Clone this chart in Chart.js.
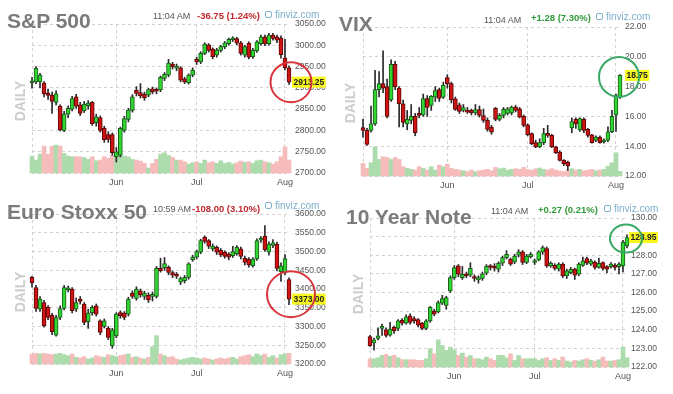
<!DOCTYPE html>
<html>
<head>
<meta charset="utf-8">
<script src="https://cdn.jsdelivr.net/npm/chart.js@4.4.1/dist/chart.umd.min.js"></script>
<style>
body{margin:0;background:#fff;width:673px;height:394px;overflow:hidden;position:relative;font-family:"Liberation Sans",Arial,sans-serif}
.panel{position:absolute;width:337px;height:197px}
.panel canvas{position:absolute;left:0;top:0}
.title{position:absolute;font-weight:bold;font-size:21px;line-height:21px;color:#7b7b7b;white-space:nowrap}
.time{position:absolute;font-size:9px;line-height:10px;color:#555;white-space:nowrap}
.chg{position:absolute;font-size:9.5px;line-height:10px;font-weight:bold;white-space:nowrap}
.dn{color:#c0282d}.up{color:#2f9a3a}
.fv{position:absolute;font-size:10px;line-height:10px;color:#7fb0cc;white-space:nowrap}
.fv i{display:inline-block;width:5px;height:5px;border:1px solid #7fb0cc;border-radius:2px;margin-right:3px;vertical-align:0px}
.daily{position:absolute;width:50px;height:16px;line-height:16px;text-align:center;font-size:14px;font-weight:bold;color:#cdcdcd;transform:rotate(-90deg)}
</style>
</head>
<body>

<div class="panel" style="left:0;top:0">
  <canvas id="spx" width="336" height="197"></canvas>
  <div class="title" style="left:7px;top:10px">S&amp;P 500</div>
  <div class="time" style="left:153px;top:11px">11:04 AM</div>
  <div class="chg dn" style="left:197px;top:11px">-36.75 (1.24%)</div>
  <div class="fv" style="left:265px;top:10px"><i></i>finviz.com</div>
  <div class="daily" style="left:-5px;top:93px">DAILY</div>
</div>

<div class="panel" style="left:336px;top:0">
  <canvas id="vix" width="337" height="197"></canvas>
  <div class="title" style="left:3px;top:13px">VIX</div>
  <div class="time" style="left:148px;top:15px">11:04 AM</div>
  <div class="chg up" style="left:195px;top:13px">+1.28 (7.30%)</div>
  <div class="fv" style="left:260px;top:12px"><i></i>finviz.com</div>
  <div class="daily" style="left:-11px;top:95px">DAILY</div>
</div>

<div class="panel" style="left:0;top:197px">
  <canvas id="sx5e" width="336" height="197"></canvas>
  <div class="title" style="left:7px;top:4px">Euro Stoxx 50</div>
  <div class="time" style="left:153px;top:7px">10:59 AM</div>
  <div class="chg dn" style="left:192px;top:7px">-108.00 (3.10%)</div>
  <div class="fv" style="left:265px;top:4px"><i></i>finviz.com</div>
  <div class="daily" style="left:-5px;top:87px">DAILY</div>
</div>

<div class="panel" style="left:336px;top:197px">
  <canvas id="tny" width="337" height="197"></canvas>
  <div class="title" style="left:10px;top:9px">10 Year Note</div>
  <div class="time" style="left:155px;top:9px">11:04 AM</div>
  <div class="chg up" style="left:202px;top:8px">+0.27 (0.21%)</div>
  <div class="fv" style="left:268px;top:7px"><i></i>finviz.com</div>
  <div class="daily" style="left:-3px;top:89px">DAILY</div>
</div>

<script>
// trading days shown on every panel
const dates = [
    'May 2', 'May 3', 'May 6', 'May 7', 'May 8', 'May 9', 'May 10', 'May 13', 'May 14', 'May 15',
    'May 16', 'May 17', 'May 20', 'May 21', 'May 22', 'May 23', 'May 24', 'May 28', 'May 29', 'May 30',
    'May 31', 'Jun 3', 'Jun 4', 'Jun 5', 'Jun 6', 'Jun 7', 'Jun 10', 'Jun 11', 'Jun 12', 'Jun 13',
    'Jun 14', 'Jun 17', 'Jun 18', 'Jun 19', 'Jun 20', 'Jun 21', 'Jun 24', 'Jun 25', 'Jun 26', 'Jun 27',
    'Jun 28', 'Jul 1', 'Jul 2', 'Jul 3', 'Jul 5', 'Jul 8', 'Jul 9', 'Jul 10', 'Jul 11', 'Jul 12',
    'Jul 15', 'Jul 16', 'Jul 17', 'Jul 18', 'Jul 19', 'Jul 22', 'Jul 23', 'Jul 24', 'Jul 25', 'Jul 26',
    'Jul 29', 'Jul 30', 'Jul 31', 'Aug 1', 'Aug 2'
];

// S&P 500
const spxOpen = [2912, 2914, 2914, 2911, 2887, 2883, 2866, 2857, 2800, 2838, 2850, 2879, 2860, 2846, 2858, 2866, 2818, 2830, 2805, 2790,
    2790, 2738, 2742, 2800, 2826, 2847, 2894, 2889, 2885, 2883, 2898, 2896, 2895, 2922, 2930, 2956, 2946, 2947, 2921, 2912,
    2930, 2967, 2961, 2981, 3001, 2991, 2977, 2988, 2996, 3004, 3013, 3016, 3006, 2977, 3005, 2973, 2987, 3004, 3020, 3004,
    3024, 3020, 3017, 2970, 2947];
const spxHigh = [2925, 2950, 2934, 2915, 2897, 2890, 2893, 2860, 2845, 2858, 2880, 2885, 2866, 2868, 2870, 2868, 2838, 2834, 2810, 2797,
    2794, 2760, 2808, 2833, 2852, 2884, 2903, 2910, 2890, 2899, 2902, 2900, 2928, 2936, 2967, 2960, 2956, 2950, 2925, 2933,
    2947, 2972, 2985, 3006, 3004, 2994, 2993, 3000, 3009, 3017, 3020, 3019, 3009, 3000, 3008, 2993, 3011, 3024, 3024, 3028,
    3028, 3024, 3022, 3014, 2952];
const spxLow = [2899, 2910, 2900, 2879, 2873, 2840, 2860, 2799, 2797, 2830, 2846, 2852, 2835, 2842, 2850, 2812, 2810, 2796, 2772, 2772,
    2742, 2726, 2738, 2796, 2820, 2843, 2881, 2876, 2871, 2879, 2886, 2886, 2891, 2917, 2926, 2944, 2940, 2914, 2910, 2909,
    2926, 2955, 2957, 2978, 2984, 2968, 2972, 2984, 2992, 3000, 3009, 3001, 2977, 2972, 2968, 2969, 2983, 3000, 2999, 3000,
    3012, 3006, 2970, 2942, 2908];
const spxClose = [2915, 2946, 2930, 2886, 2882, 2868, 2886, 2801, 2839, 2852, 2875, 2857, 2840, 2862, 2864, 2815, 2832, 2800, 2778, 2779,
    2748, 2750, 2805, 2828, 2848, 2879, 2887, 2881, 2877, 2896, 2891, 2892, 2925, 2932, 2958, 2950, 2951, 2918, 2914, 2930,
    2942, 2961, 2981, 3003, 2988, 2973, 2989, 2997, 3006, 3014, 3016, 3005, 2981, 2997, 2972, 2989, 3008, 3020, 3003, 3024,
    3016, 3012, 2978, 2947, 2913.25];
const spxVol = [51, 39, 57, 81, 57, 81, 84, 81, 59, 51, 49, 49, 49, 47, 41, 49, 37, 39, 49, 44,
    54, 49, 54, 51, 49, 41, 39, 36, 29, 15, 29, 41, 57, 61, 53, 47, 39, 39, 34, 27,
    31, 34, 29, 39, 31, 34, 29, 37, 29, 32, 27, 31, 36, 32, 34, 29, 37, 39, 34, 31,
    27, 34, 49, 79, 39];

// VIX
const vixOpen = [15.25, 15.06, 15.06, 15.5, 17.8, 18.2, 18.0, 17.1, 19.5, 17.9, 16.85, 15.5, 15.73, 16.0, 16.2, 16.1, 17.2, 16.73, 17.29, 17.8,
    17.29, 18.6, 18.2, 17.18, 16.78, 16.4, 16.4, 16.4, 16.24, 16.46, 16.06, 15.73, 15.28, 16.55, 15.8, 16.07, 16.2, 16.24, 16.62, 16.5,
    16.0, 15.44, 14.84, 14.24, 13.95, 14.24, 14.84, 14.73, 13.95, 13.6, 13.05, 12.94, 15.22, 15.8, 15.1, 15.8, 15.13, 14.77, 14.39, 14.61,
    14.28, 14.41, 14.97, 16.1, 17.3];
const vixHigh = [15.8, 15.2, 16.7, 19.1, 19.0, 20.4, 18.5, 19.8, 19.7, 18.0, 17.1, 16.4, 16.8, 16.2, 16.6, 17.5, 17.4, 17.4, 18.0, 17.9,
    18.3, 18.8, 18.3, 17.3, 16.9, 16.8, 16.6, 16.5, 16.8, 16.7, 16.5, 15.9, 15.4, 16.6, 16.2, 16.6, 16.6, 16.7, 16.75, 16.6,
    16.1, 15.5, 14.9, 14.4, 14.5, 15.2, 15.4, 14.8, 14.0, 13.7, 13.1, 13.0, 15.9, 15.9, 15.9, 15.9, 15.2, 14.8, 14.7, 14.7,
    14.5, 15.3, 16.4, 17.5, 18.8];
const vixLow = [14.6, 14.05, 14.95, 15.4, 17.3, 17.6, 15.9, 17.0, 17.8, 15.3, 15.3, 15.1, 15.5, 14.7, 15.9, 16.0, 16.0, 16.4, 17.0, 17.0,
    17.2, 17.9, 16.9, 16.4, 16.2, 16.3, 16.2, 16.1, 16.1, 15.95, 15.6, 15.0, 14.8, 15.7, 15.7, 15.9, 16.1, 16.1, 16.3, 15.9,
    15.3, 14.7, 14.1, 13.9, 13.9, 14.1, 14.6, 13.9, 13.5, 13.0, 12.7, 12.38, 14.9, 15.2, 15.0, 14.9, 14.6, 14.2, 14.3, 14.2,
    14.2, 14.3, 14.9, 15.0, 17.2];
const vixClose = [15.06, 14.12, 15.5, 17.8, 18.2, 17.9, 16.0, 19.5, 18.0, 16.85, 15.6, 15.8, 16.0, 14.9, 16.07, 17.2, 16.6, 17.36, 17.74, 17.2,
    18.1, 18.2, 17.1, 16.47, 16.33, 16.6, 16.29, 16.24, 16.46, 16.06, 15.73, 15.13, 14.95, 15.8, 16.07, 16.47, 16.5, 16.62, 16.4, 15.95,
    15.4, 14.77, 14.17, 13.95, 14.24, 14.84, 14.73, 13.95, 13.57, 13.05, 12.83, 12.67, 15.66, 15.5, 15.85, 15.06, 14.73, 14.23, 14.61, 14.23,
    14.4, 14.97, 16.0, 17.4, 18.75];
const vixVol = [38, 23, 40, 88, 50, 58, 56, 50, 56, 50, 28, 23, 20, 18, 28, 23, 18, 28, 18, 33,
    28, 36, 23, 20, 18, 16, 13, 18, 13, 16, 18, 20, 16, 26, 22, 24, 18, 20, 22, 20,
    26, 20, 18, 22, 24, 20, 18, 22, 18, 15, 13, 18, 22, 18, 20, 16, 18, 20, 16, 18,
    20, 30, 40, 70, 14];

// Euro Stoxx 50
const sx5eOpen = [3431, 3404, 3346, 3364, 3351, 3330, 3277, 3324, 3348, 3398, 3400, 3346, 3371, 3360, 3313, 3337, 3355, 3315, 3300, 3295,
    3249, 3275, 3337, 3336, 3333, 3389, 3375, 3395, 3380, 3384, 3380, 3380, 3455, 3457, 3458, 3444, 3440, 3418, 3422, 3431,
    3478, 3485, 3498, 3538, 3529, 3507, 3511, 3503, 3498, 3493, 3489, 3494, 3507, 3482, 3480, 3462, 3480, 3530, 3541, 3498,
    3516, 3520, 3446, 3443, 3425];
const sx5eHigh = [3434, 3410, 3380, 3370, 3356, 3335, 3330, 3355, 3410, 3408, 3404, 3376, 3380, 3364, 3346, 3356, 3360, 3318, 3320, 3300,
    3295, 3337, 3342, 3340, 3378, 3395, 3406, 3400, 3394, 3390, 3392, 3460, 3482, 3484, 3462, 3448, 3444, 3432, 3436, 3470,
    3490, 3504, 3533, 3542, 3532, 3520, 3515, 3508, 3502, 3497, 3514, 3516, 3512, 3488, 3484, 3484, 3534, 3540, 3569, 3526,
    3532, 3525, 3470, 3492, 3430];
const sx5eLow = [3405, 3340, 3340, 3298, 3318, 3278, 3274, 3318, 3344, 3392, 3336, 3340, 3360, 3305, 3295, 3330, 3328, 3278, 3296, 3265,
    3242, 3270, 3322, 3318, 3328, 3375, 3370, 3378, 3372, 3364, 3368, 3376, 3445, 3450, 3438, 3430, 3428, 3412, 3416, 3426,
    3474, 3480, 3494, 3522, 3508, 3502, 3492, 3486, 3482, 3478, 3484, 3490, 3480, 3464, 3458, 3458, 3476, 3524, 3500, 3490,
    3510, 3448, 3420, 3438, 3358];
const sx5eClose = [3416, 3348, 3373, 3302, 3324, 3286, 3324, 3348, 3404, 3402, 3342, 3364, 3367, 3311, 3336, 3351, 3333, 3284, 3315, 3271,
    3291, 3333, 3329, 3324, 3373, 3380, 3400, 3384, 3389, 3371, 3386, 3455, 3449, 3468, 3444, 3437, 3434, 3428, 3431, 3467,
    3485, 3500, 3529, 3527, 3514, 3514, 3498, 3491, 3487, 3485, 3500, 3511, 3487, 3471, 3464, 3480, 3529, 3534, 3505, 3520,
    3523, 3455, 3462, 3481, 3373];
const sx5eVol = [30, 32, 30, 32, 30, 28, 30, 32, 28, 25, 30, 20, 18, 22, 15, 18, 25, 22, 20, 28,
    25, 22, 25, 28, 30, 20, 22, 18, 15, 20, 52, 85, 30, 25, 20, 22, 15, 12, 15, 18,
    20, 18, 15, 18, 15, 12, 15, 18, 15, 18, 20, 15, 22, 25, 28, 22, 30, 25, 30, 20,
    25, 18, 28, 30, 32];

// 10 Year Note
const tnyOpen = [123.64, 123.29, 123.54, 124.07, 124.0, 123.71, 124.13, 124.07, 124.5, 124.36, 124.75, 124.6, 124.54, 124.36, 124.07, 124.48, 125.0, 124.96, 125.43, 125.3,
    126.09, 126.8, 127.43, 126.8, 126.98, 126.93, 126.86, 126.68, 126.75, 127.04, 127.43, 127.4, 127.25, 127.57, 127.87, 127.79, 127.64, 128.0, 128.18, 127.61,
    127.93, 127.61, 127.75, 128.18, 128.36, 127.43, 127.46, 127.25, 127.52, 126.89, 127.07, 127.25, 126.98, 127.46, 127.82, 127.52, 127.64, 127.34, 127.61, 127.39,
    127.39, 127.46, 127.39, 127.43, 128.5];
const tnyHigh = [123.7, 123.55, 124.1, 124.3, 124.1, 124.4, 124.2, 124.55, 124.6, 124.8, 124.85, 124.7, 124.6, 124.4, 124.55, 125.25, 125.1, 125.55, 125.85, 125.8,
    126.9, 127.45, 127.5, 127.4, 127.1, 127.6, 126.95, 126.9, 127.1, 127.5, 127.5, 127.55, 127.65, 127.95, 128.25, 127.85, 128.05, 128.3, 128.25, 128.05,
    128.15, 127.8, 128.25, 128.5, 128.45, 127.65, 127.55, 127.6, 127.6, 127.25, 127.35, 127.3, 127.6, 127.9, 127.9, 127.78, 127.7, 127.85, 127.65, 127.45,
    127.6, 127.55, 127.6, 128.8, 129.1];
const tnyLow = [123.1, 122.9, 123.45, 123.7, 123.6, 123.65, 123.8, 123.95, 124.25, 124.3, 124.3, 124.35, 124.15, 124.0, 124.0, 124.4, 124.75, 124.9, 125.35, 125.1,
    126.0, 126.7, 126.85, 126.7, 126.8, 126.85, 126.6, 126.5, 126.65, 126.95, 127.2, 127.15, 127.1, 127.45, 127.8, 127.45, 127.55, 127.9, 127.5, 127.55,
    127.85, 127.5, 127.7, 128.05, 127.35, 127.35, 127.2, 127.15, 126.8, 126.75, 127.0, 126.7, 126.9, 127.4, 127.5, 127.45, 127.25, 127.3, 127.2, 127.05,
    127.3, 127.2, 127.0, 127.1, 128.4];
const tnyClose = [123.14, 123.46, 123.68, 124.1, 123.7, 124.04, 123.95, 124.48, 124.36, 124.7, 124.4, 124.48, 124.25, 124.07, 124.48, 125.2, 124.84, 125.46, 125.68, 125.73,
    126.8, 127.34, 126.98, 126.98, 126.9, 127.3, 126.75, 126.8, 127.0, 127.4, 127.34, 127.3, 127.57, 127.87, 128.05, 127.52, 127.96, 128.18, 127.61, 127.96,
    128.05, 127.7, 128.18, 128.41, 127.43, 127.57, 127.29, 127.52, 126.89, 127.16, 127.25, 126.93, 127.52, 127.7, 127.57, 127.7, 127.34, 127.57, 127.29, 127.25,
    127.52, 127.34, 127.52, 128.71, 128.95];
const tnyVol = [25, 25, 28, 35, 38, 32, 35, 28, 22, 22, 22, 22, 20, 20, 25, 55, 40, 82, 65, 50,
    60, 52, 35, 42, 30, 35, 25, 25, 22, 30, 25, 20, 35, 35, 28, 40, 20, 35, 25, 25,
    25, 25, 20, 25, 28, 20, 25, 20, 30, 18, 15, 20, 18, 22, 25, 20, 18, 22, 30, 18,
    18, 20, 22, 60, 28];

const GREEN = '#2fd62f', GREEN_EDGE = '#1d5a1d';
const RED = '#cf1414', RED_EDGE = '#5c0606';
const VOL_GREEN = '#acdcac', VOL_RED = '#f6bcbc';
const GRID = '#d2d2d2';

function monthOf(i) { return dates[i].split(' ')[0]; }
function isMonthStart(i) { return i > 0 && monthOf(i) !== monthOf(i - 1); }

function candleChart(p) {
    const up = p.close.map((c, i) => c >= p.open[i]);
    const last = dates.length - 1;

    const marker = {
        id: 'marker',
        afterDraw(chart) {
            const c = chart.ctx, a = chart.chartArea;
            const xs = chart.scales.x, ys = chart.scales.y;
            const y = ys.getPixelForValue(p.close[last]);
            const txt = p.close[last].toFixed(2);
            c.save();
            c.font = 'bold 8.5px "Liberation Sans", Arial';
            const w = c.measureText(txt).width + 3;
            c.fillStyle = '#f8f81e';
            c.fillRect(a.right + p.boxGap, y - 5.5, w, 11);
            c.fillStyle = '#222';
            c.textBaseline = 'middle';
            c.fillText(txt, a.right + p.boxGap + 1.5, y + 0.5);
            c.beginPath();
            c.ellipse(xs.getPixelForValue(last) + p.ring.dx, y + p.ring.dy, p.ring.rx, p.ring.ry, 0, 0, Math.PI * 2);
            c.lineWidth = 2;
            c.strokeStyle = p.ring.color;
            c.stroke();
            c.restore();
        }
    };

    return new Chart(document.getElementById(p.id).getContext('2d'), {
        type: 'bar',
        data: {
            labels: dates,
            datasets: [{
                // bodies
                data: p.open.map((o, i) => [o, p.close[i]]),
                backgroundColor: up.map(u => u ? GREEN : RED),
                borderColor: up.map(u => u ? GREEN_EDGE : RED_EDGE),
                borderWidth: 1,
                borderSkipped: false,
                barThickness: 4,
                minBarLength: 2,
                grouped: false,
                clip: false
            }, {
                // wicks
                data: p.low.map((l, i) => [l, p.high[i]]),
                backgroundColor: '#2a2a2a',
                barThickness: 1,
                grouped: false,
                clip: false
            }, {
                // volume
                data: p.vol,
                yAxisID: 'yv',
                backgroundColor: up.map(u => u ? VOL_GREEN : VOL_RED),
                barPercentage: 1,
                categoryPercentage: 1,
                grouped: false,
                clip: false
            }]
        },
        options: {
            responsive: false,
            animation: false,
            layout: { padding: p.pad },
            plugins: { legend: { display: false }, tooltip: { enabled: false } },
            scales: {
                x: {
                    offset: false,
                    grid: {
                        offset: false,
                        drawTicks: false,
                        color: ctx => (ctx.index === 0 || isMonthStart(ctx.index)) ? GRID : 'rgba(0,0,0,0)'
                    },
                    border: { display: false, dash: [3, 3] },
                    ticks: {
                        autoSkip: false,
                        maxRotation: 0,
                        padding: p.xPad,
                        color: '#555',
                        font: { size: 9, family: '"Liberation Sans", Arial' },
                        callback: (v, i) => isMonthStart(i) ? monthOf(i) : ''
                    },
                    afterFit: s => { s.height = p.xH; }
                },
                y: {
                    position: 'right',
                    min: p.min,
                    max: p.max,
                    grid: { drawTicks: false, color: GRID },
                    border: { display: false, dash: [3, 3] },
                    ticks: {
                        stepSize: p.step,
                        padding: p.yPad,
                        color: '#555',
                        font: { size: 8.5, family: '"Liberation Sans", Arial' },
                        callback: v => v.toFixed(2)
                    },
                    afterFit: s => { s.width = p.yW; }
                },
                yv: { display: false, min: 0, max: 450 }
            }
        },
        plugins: [marker]
    });
}

candleChart({
    id: 'spx', open: spxOpen, high: spxHigh, low: spxLow, close: spxClose, vol: spxVol,
    min: 2700, max: 3050, step: 50,
    pad: { left: 32, top: 24, right: 7, bottom: 6 }, yW: 40, xH: 18, xPad: 4, yPad: 6,
    boxGap: 3, ring: { dx: 2, dy: 0, rx: 20.5, ry: 20, color: '#d8333a' }
});
candleChart({
    id: 'vix', open: vixOpen, high: vixHigh, low: vixLow, close: vixClose, vol: vixVol,
    min: 12, max: 22, step: 2,
    pad: { left: 27, top: 27, right: 7, bottom: 5 }, yW: 46, xH: 16, xPad: 4, yPad: 5,
    boxGap: 5, ring: { dx: -1, dy: 1.5, rx: 20, ry: 20, color: '#3aa866' }
});
candleChart({
    id: 'sx5e', open: sx5eOpen, high: sx5eHigh, low: sx5eLow, close: sx5eClose, vol: sx5eVol,
    min: 3200, max: 3600, step: 50,
    pad: { left: 32, top: 17, right: 7, bottom: 12 }, yW: 40, xH: 18, xPad: 4, yPad: 6,
    boxGap: 3, ring: { dx: 2, dy: -5, rx: 24, ry: 23, color: '#d8333a' }
});
candleChart({
    id: 'tny', open: tnyOpen, high: tnyHigh, low: tnyLow, close: tnyClose, vol: tnyVol,
    min: 122, max: 130, step: 1,
    pad: { left: 34, top: 21, right: 6, bottom: 9 }, yW: 40, xH: 18, xPad: 4, yPad: 4,
    boxGap: 2, ring: { dx: -1, dy: 1, rx: 16, ry: 14, color: '#3aa866' }
});
</script>
</body>
</html>
